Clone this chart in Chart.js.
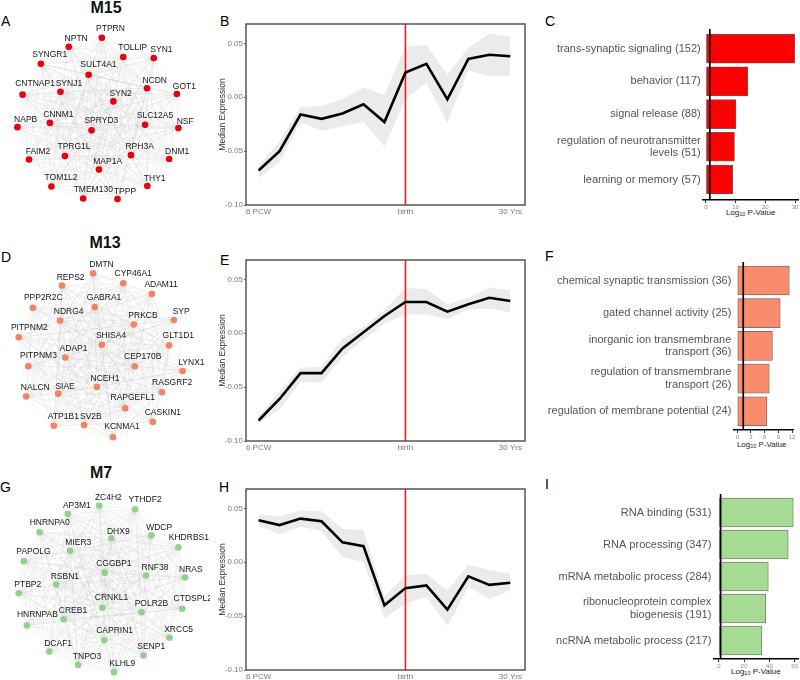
<!DOCTYPE html>
<html><head><meta charset="utf-8">
<script src="https://cdn.jsdelivr.net/npm/chart.js@4/dist/chart.umd.min.js"></script>
<style>
body{margin:0;background:#fff;width:800px;height:680px;position:relative;overflow:hidden;font-family:"Liberation Sans",Arial,sans-serif;}
canvas{position:absolute;}
.t{position:absolute;line-height:1;white-space:nowrap;color:#000;}
.L{font-size:14px;}
.M{font-size:16px;font-weight:bold;width:60px;text-align:center;color:#111;}
.ax{font-size:8px;color:#222;transform:translate(-50%,-50%);}
.ax sub{font-size:5.5px;vertical-align:-1px;}
</style></head><body>

<div class="t M" style="left:76px;top:0px">M15</div>
<div class="t M" style="left:75px;top:234.6px">M13</div>
<div class="t M" style="left:71px;top:464.6px">M7</div>
<div class="t L" style="left:1px;top:14px">A</div>
<div class="t L" style="left:220px;top:14px">B</div>
<div class="t L" style="left:545px;top:14px">C</div>
<div class="t L" style="left:1px;top:250px">D</div>
<div class="t L" style="left:220px;top:252.5px">E</div>
<div class="t L" style="left:545px;top:249px">F</div>
<div class="t L" style="left:0px;top:480px">G</div>
<div class="t L" style="left:219px;top:480px">H</div>
<div class="t L" style="left:545px;top:477px">I</div>
<div class="t ax" style="left:750.7px;top:212.5px">Log<sub>10</sub> P-Value</div>
<div class="t ax" style="left:761.7px;top:444.5px">Log<sub>10</sub> P-Value</div>
<div class="t ax" style="left:755.8px;top:672px">Log<sub>10</sub> P-Value</div>

<canvas id="netA" width="210" height="225" style="left:0;top:0"></canvas>
<canvas id="netD" width="210" height="225" style="left:0;top:225px"></canvas>
<canvas id="netG" width="210" height="230" style="left:0;top:450px"></canvas>
<canvas id="lineB" width="330" height="225" style="left:200px;top:0"></canvas>
<canvas id="lineE" width="330" height="236" style="left:200px;top:225px"></canvas>
<canvas id="lineH" width="330" height="230" style="left:200px;top:450px"></canvas>
<canvas id="barC" width="270" height="225" style="left:530px;top:0"></canvas>
<canvas id="barF" width="270" height="236" style="left:530px;top:225px"></canvas>
<canvas id="barI" width="270" height="230" style="left:530px;top:450px"></canvas>

<script>
// ---------------- DATA ----------------
const timeTicks = [0, 7, 12];
const timeTickLabels = ['6 PCW', 'birth', '30 Yrs'];
const birthIndex = 7;
const exprTicks = [-0.10, -0.05, 0.00, 0.05];

const m15Median = [-0.068,-0.050,-0.016,-0.020,-0.015,-0.0065,-0.023,0.023,0.031,-0.002,0.0355,0.0395,0.038];
const m15Upper  = [-0.063,-0.041,-0.009,-0.008,-0.0015,0.009,0.002,0.047,0.0485,0.021,0.046,0.059,0.056];
const m15Lower  = [-0.075,-0.060,-0.023,-0.031,-0.027,-0.023,-0.046,-0.0015,0.0135,-0.024,0.025,0.0195,0.020];

const m13Median = [-0.081,-0.061,-0.037,-0.037,-0.014,0.001,0.016,0.029,0.029,0.020,0.027,0.033,0.030];
const m13Upper  = [-0.077,-0.054,-0.032,-0.031,-0.005,0.006,0.0215,0.042,0.041,0.027,0.033,0.0425,0.040];
const m13Lower  = [-0.083,-0.071,-0.045,-0.046,-0.022,-0.006,0.009,0.0175,0.0175,0.013,0.022,0.023,0.0195];

const m7Median = [0.039,0.0345,0.0405,0.038,0.0185,0.015,-0.040,-0.024,-0.0215,-0.044,-0.013,-0.021,-0.019];
const m7Upper  = [0.0445,0.0425,0.048,0.0475,0.031,0.030,-0.032,-0.012,-0.011,-0.026,-0.0025,-0.007,-0.011];
const m7Lower  = [0.034,0.026,0.033,0.029,0.005,0.000,-0.052,-0.0385,-0.032,-0.059,-0.023,-0.034,-0.026];

const sigThreshold = 1.3;
const m15Terms = ['trans-synaptic signaling (152)','behavior (117)','signal release (88)',['regulation of neurotransmitter','levels (51)'],'learning or memory (57)'];
const m15LogP  = [29.9, 14.1, 10.1, 9.6, 9.0];
const m15PTicks = [0, 10, 20, 30];
const m13Terms = ['chemical synaptic transmission (36)','gated channel activity (25)',['inorganic ion transmembrane','transport (36)'],['regulation of transmembrane','transport (26)'],'regulation of membrane potential (24)'];
const m13LogP  = [11.4, 9.4, 7.7, 7.0, 6.5];
const m13PTicks = [0, 3, 6, 9, 12];
const m7Terms = ['RNA binding (531)','RNA processing (347)','mRNA metabolic process (284)',['ribonucleoprotein complex','biogenesis (191)'],'ncRNA metabolic process (217)'];
const m7LogP  = [58.9, 54.9, 39.1, 37.2, 34.1];
const m7PTicks = [0, 20, 40, 60];

const m15Genes = ['PTPRN','NPTN','TOLLIP','SYN1','SYNGR1','SULT4A1','CNTNAP1','SYNJ1','NCDN','GOT1','SYN2','NAPB','CNNM1','SPRYD3','SLC12A5','NSF','FAIM2','TPRG1L','RPH3A','DNM1','MAP1A','TOM1L2','THY1','TMEM130','TPPP'];
const m13Genes = ['DMTN','REPS2','CYP46A1','ADAM11','PPP2R2C','GABRA1','NDRG4','PRKCB','SYP','PITPNM2','SHISA4','GLT1D1','ADAP1','PITPNM3','CEP170B','LYNX1','NCEH1','SIAE','NALCN','RASGRF2','RAPGEFL1','CASKIN1','ATP1B1','SV2B','KCNMA1'];
const m7Genes = ['ZC4H2','YTHDF2','AP3M1','HNRNPA0','WDCP','DHX9','KHDRBS1','MIER3','PAPOLG','CGGBP1','RNF38','NRAS','RSBN1','PTBP2','CRNKL1','CTDSPL2','POLR2B','CREB1','HNRNPAB','CAPRIN1','XRCC5','SENP1','DCAF1','TNPO3','KLHL9'];

// network layout (node position, label position) in layout units
const m15Layout = [[101.7,35],[67.3,44.3],[124,55],[155.7,56],[38.3,62],[88,73.3],[19.3,94],[58.7,91],[148.7,87.3],[179.7,93.3],[113.7,101],[14,127.7],[47.7,123.3],[91,131],[146.7,125.3],[181.3,128.7],[26,161.3],[63.3,157.7],[132,156.7],[171.7,160.7],[98.7,171.7],[49.3,189.3],[149,188.7],[82.3,201.7],[118,202.3]];
const m15LabelLayout = [[110.7,26],[75,36],[133.8,45.3],[163.7,47.7],[47.5,52.3],[98.2,63.3],[32.3,82.7],[67.5,82.7],[156.7,80],[187.5,85.3],[121.3,93.3],[22.5,120],[56.5,115],[101.2,120.7],[157,115.7],[188.3,121.7],[35.3,153.3],[72.8,148.3],[141,147.7],[180,152.7],[107.8,163.3],[59.2,180],[156.7,181],[92.8,192],[125.8,194.3]];
const m13Layout = [[92.7,46],[60.3,58.7],[124,56.3],[153.7,67.3],[30,81.7],[94.3,81],[58.3,95],[135,99],[176.7,94.3],[15.3,112.3],[101.7,120],[171.7,120.7],[63.7,133.3],[25.3,142.3],[136,142.3],[185.7,147.3],[96.7,163.7],[56.3,170.7],[23,173.7],[164.3,169.3],[126,186],[154.7,200],[51.7,204],[83.3,203.3],[113.3,216]];
const m13LabelLayout = [[101.3,37.3],[69.3,50],[134.3,46.7],[163.3,57.7],[40.8,71.7],[104,71.7],[67.2,86],[144.5,90],[184.2,85.7],[26.3,102],[111.3,110.7],[181.2,110.7],[72.3,124.3],[35.8,131.7],[144.2,132.7],[194.8,138.3],[105,155],[63.5,163.3],[32.5,165],[174.8,159.3],[133.8,175.3],[165.2,190],[61.7,194.3],[90.3,194.3],[122.7,205.3]];
const m7Layout = [[99,53.3],[136.3,57.3],[66.3,62],[37,81],[153.3,84.3],[111.7,87.3],[181.3,96.7],[68.7,100.3],[20.7,111],[104.7,123],[147.7,126],[188.3,128],[54.3,135.3],[15.3,144.3],[102.3,159.3],[185.3,160.3],[143,164],[62,171.3],[23.7,177.7],[104.3,193],[172,190.3],[145,208.7],[47,204.7],[77,218.7],[114.3,226]];
const m7LabelLayout = [[108.5,45],[146.7,47.7],[75.7,53.3],[47.5,71],[161.3,76],[118.8,80],[192.2,86.7],[77.2,92.3],[30.7,101],[114.2,113.3],[157,117.3],[194.3,120],[63.3,126.7],[24.7,135],[111.8,149.3],[196.2,150],[153.3,155],[71.7,162.7],[34.7,166.7],[115,182.7],[181.5,181.7],[153,200],[56.3,196],[86.3,210],[123,217.7]];

// ---------------- RENDER ----------------
const FAM = "'Liberation Sans', Arial, sans-serif";
Chart.defaults.font.family = FAM;
Chart.defaults.animation = false;
Chart.defaults.responsive = false;
Chart.defaults.events = [];
Chart.defaults.plugins.legend.display = false;
Chart.defaults.plugins.tooltip.enabled = false;

function networkChart(id, genes, layout, labels, color, h) {
  const netPlugin = {
    id: 'net_' + id,
    beforeDatasetsDraw(chart) {
      const {ctx, scales: {x, y}} = chart;
      ctx.save();
      ctx.strokeStyle = 'rgba(175,175,175,0.24)';
      ctx.lineWidth = 0.6;
      for (let i = 0; i < layout.length; i++) {
        for (let j = i + 1; j < layout.length; j++) {
          ctx.beginPath();
          ctx.moveTo(x.getPixelForValue(layout[i][0]), y.getPixelForValue(layout[i][1]));
          ctx.lineTo(x.getPixelForValue(layout[j][0]), y.getPixelForValue(layout[j][1]));
          ctx.stroke();
        }
      }
      ctx.restore();
    },
    afterDatasetsDraw(chart) {
      const {ctx, scales: {x, y}} = chart;
      ctx.save();
      ctx.font = "8.5px " + FAM;
      ctx.fillStyle = '#161616';
      ctx.textAlign = 'center';
      ctx.textBaseline = 'middle';
      genes.forEach((g, i) => {
        ctx.fillText(g, x.getPixelForValue(labels[i][0]), y.getPixelForValue(labels[i][1]));
      });
      ctx.restore();
    }
  };
  new Chart(document.getElementById(id), {
    type: 'scatter',
    data: { datasets: [{ data: layout.map(p => ({x: p[0], y: p[1]})), pointRadius: 3.3, pointBackgroundColor: color, pointBorderWidth: 0 }] },
    options: {
      layout: { padding: 0 },
      scales: {
        x: { display: false, min: 0, max: 210 },
        y: { display: false, min: 0, max: h, reverse: true }
      }
    },
    plugins: [netPlugin]
  });
}

const frame = {
  id: 'frame',
  afterDraw(chart) {
    const {ctx, chartArea: a} = chart;
    ctx.save();
    ctx.strokeStyle = '#4a4a4a';
    ctx.lineWidth = 1.4;
    ctx.strokeRect(a.left, a.top, a.right - a.left, a.bottom - a.top);
    ctx.restore();
  }
};

const Y_MIN = -0.10, Y_MAX = 0.068;
function lineChart(id, median, upper, lower, g) {
  const xy = arr => arr.map((v, i) => ({x: i, y: v}));
  new Chart(document.getElementById(id), {
    type: 'line',
    data: { datasets: [
      { data: xy(upper), borderWidth: 0, pointRadius: 0, fill: '+1', backgroundColor: '#ebebeb', order: 4 },
      { data: xy(lower), borderWidth: 0, pointRadius: 0, fill: false, order: 3 },
      { data: [{x: birthIndex, y: Y_MIN}, {x: birthIndex, y: Y_MAX}], borderColor: '#ff1a1a', borderWidth: 1.6, pointRadius: 0, fill: false, order: 2 },
      { data: xy(median), borderColor: '#000', borderWidth: 2.6, pointRadius: 0, fill: false, order: 1, borderJoinStyle: 'miter' }
    ]},
    options: {
      layout: { padding: { top: g.top, right: g.right, left: 0, bottom: 0 } },
      scales: {
        x: {
          type: 'linear', min: -0.6, max: 12.7,
          afterFit: s => { s.height = g.xh; s.paddingLeft = 0; s.paddingRight = 0; },
          afterBuildTicks: s => { s.ticks = timeTicks.map(v => ({value: v})); },
          ticks: { callback: v => timeTickLabels[timeTicks.indexOf(v)], font: {size: 8}, color: '#7a7a7a', padding: 2, maxRotation: 0, autoSkip: false },
          grid: { display: false, drawTicks: false },
          border: { display: false }
        },
        y: {
          min: Y_MIN, max: Y_MAX,
          afterFit: s => { s.width = g.yw; s.paddingTop = 0; s.paddingBottom = 0; },
          afterBuildTicks: s => { s.ticks = exprTicks.map(v => ({value: v})); },
          ticks: { callback: v => v.toFixed(2), font: {size: 8}, color: '#7a7a7a', padding: 1 },
          grid: { drawOnChartArea: false, tickLength: 2, color: '#666' },
          border: { display: false },
          title: { display: true, text: 'Median Expression', font: {size: 8.5}, color: '#333', padding: {top: 17.5, bottom: 0} }
        }
      }
    },
    plugins: [frame]
  });
}

function barChart(id, terms, values, ticksArr, color, g) {
  const deco = {
    id: 'deco_' + id,
    afterDatasetsDraw(chart) {
      const {ctx, chartArea: a, scales: {x, y}} = chart;
      // significance threshold line
      const px = x.getPixelForValue(sigThreshold);
      ctx.save();
      ctx.strokeStyle = '#000';
      ctx.lineWidth = 1.7;
      ctx.beginPath();
      ctx.moveTo(px, a.top);
      ctx.lineTo(px, a.bottom);
      ctx.stroke();
      // category labels from the y scale
      ctx.font = "11px " + FAM;
      ctx.fillStyle = '#555';
      ctx.textAlign = 'right';
      ctx.textBaseline = 'middle';
      const lh = 12.3;
      terms.forEach((t, i) => {
        const lines = Array.isArray(t) ? t : [t];
        const cy = y.getPixelForValue(i);
        lines.forEach((ln, k) => {
          ctx.fillText(ln, a.left - 2, cy + (k - (lines.length - 1) / 2) * lh);
        });
      });
      ctx.restore();
    }
  };
  new Chart(document.getElementById(id), {
    type: 'bar',
    data: { datasets: [{ data: values.map((v, i) => ({x: v, y: i})), backgroundColor: color, borderColor: 'rgba(70,70,70,0.85)', borderWidth: 0.8, borderSkipped: false, barThickness: 29 }] },
    options: {
      indexAxis: 'y',
      layout: { padding: { top: g.top, right: g.right, left: g.yw, bottom: 0 } },
      scales: {
        x: {
          type: 'linear', min: g.xmin, max: g.xmax,
          afterFit: s => { s.height = g.xh; s.paddingLeft = 0; s.paddingRight = 0; },
          afterBuildTicks: s => { s.ticks = ticksArr.map(v => ({value: v})); },
          ticks: { callback: v => String(v), font: {size: 6}, color: '#888', padding: 1, maxRotation: 0, autoSkip: false },
          grid: { drawOnChartArea: false, tickLength: 3, color: '#333' },
          border: { display: true, color: '#000', width: 1.5 }
        },
        y: {
          type: 'linear', display: false, offset: false, min: g.ymin, max: g.ymax, reverse: true,
          grid: { offset: false }
        }
      }
    },
    plugins: [deco]
  });
}

networkChart('netA', m15Genes, m15Layout, m15LabelLayout, '#e8000b', 225);
networkChart('netD', m13Genes, m13Layout, m13LabelLayout, '#f28465', 225);
networkChart('netG', m7Genes, m7Layout, m7LabelLayout, '#90d28a', 230);

lineChart('lineB', m15Median, m15Upper, m15Lower, {top: 24, right: 5, xh: 20, yw: 46});
lineChart('lineE', m13Median, m13Upper, m13Lower, {top: 35, right: 5, xh: 20, yw: 46});
lineChart('lineH', m7Median, m7Upper, m7Lower, {top: 39, right: 5, xh: 10, yw: 46});

barChart('barC', m15Terms, m15LogP, m15PTicks, '#ff0000', {top: 29, right: 1.7, xh: 25, yw: 172.7, xmin: -1.1, xmax: 31.1, ymin: -0.602, ymax: 4.627});
barChart('barF', m13Terms, m13LogP, m13PTicks, '#fa8c6e', {top: 37, right: 6.7, xh: 31, yw: 203.3, xmin: -0.88, xmax: 12.28, ymin: -0.566, ymax: 4.572});
barChart('barI', m7Terms, m7LogP, m7PTicks, '#a6db94', {top: 44, right: 2, xh: 21, yw: 183.3, xmin: -4.5, xmax: 62.7, ymin: -0.578, ymax: 4.578});
</script>
</body></html>
